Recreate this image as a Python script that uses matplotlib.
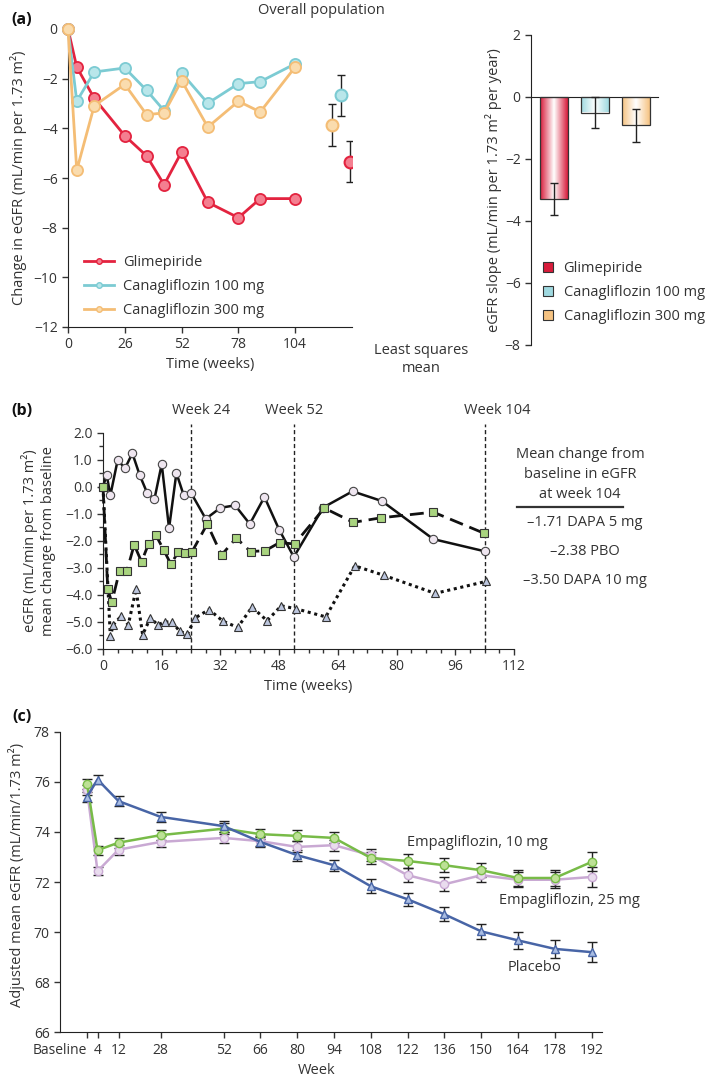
import numpy as np
import matplotlib
matplotlib.use("Agg")
import matplotlib.pyplot as plt
from matplotlib.lines import Line2D
from matplotlib.patches import Patch
from matplotlib.colors import LinearSegmentedColormap
from matplotlib.ticker import MultipleLocator, FuncFormatter

plt.rcParams['font.family'] = ['Open Sans', 'DejaVu Sans']
plt.rcParams['font.size'] = 10
for k in ['text.color', 'axes.labelcolor', 'xtick.color', 'ytick.color']:
    plt.rcParams[k] = '#333333'
plt.rcParams['axes.edgecolor'] = '#222222'

# ---- panel (a): change in eGFR over time
a_weeks = [0, 4, 12, 26, 36, 44, 52, 64, 78, 88, 104]
glim = [0, -1.53, -2.79, -4.30, -5.11, -6.27, -4.95, -6.98, -7.60, -6.83, -6.83]
cana100 = [0, -2.91, -1.73, -1.57, -2.47, -3.29, -1.77, -2.99, -2.20, -2.12, -1.40]
cana300 = [0, -5.69, -3.09, -2.23, -3.45, -3.38, -2.08, -3.95, -2.91, -3.34, -1.53]
a_names = ['Glimepiride', 'Canagliflozin 100 mg', 'Canagliflozin 300 mg']

# least squares means (glim, cana100, cana300)
lsm_x = [129, 125, 121]
lsm = [-5.34, -2.67, -3.87]
lsm_err = [0.83, 0.83, 0.84]

# eGFR slope bars
slope = [-3.30, -0.50, -0.91]
slope_err = [0.52, 0.50, 0.53]

# ---- panel (b): dapagliflozin
pbo_x = [0, 1, 2, 4, 6, 8, 10, 12, 14, 16, 18, 20, 22, 24, 28, 32, 36, 40, 44, 48, 52, 60, 68, 76, 90, 104]
pbo = [0, 0.46, -0.31, 1.00, 0.69, 1.25, 0.44, -0.21, -0.46, 0.85, -1.53, 0.52, -0.31, -0.22,
       -1.18, -0.77, -0.68, -1.37, -0.37, -1.58, -2.59, -0.76, -0.16, -0.52, -1.93, -2.38]
dapa5_x = [0, 1.3, 2.4, 4.5, 6.5, 8.5, 10.5, 12.4, 14.4, 16.5, 18.5, 20.5, 22.4, 24.3, 28.4, 32.3,
           36.3, 40.2, 44.2, 48.1, 52.2, 60.3, 68.2, 75.8, 90, 103.8]
dapa5 = [0, -3.79, -4.27, -3.11, -3.11, -2.14, -2.77, -2.11, -1.78, -2.32, -2.86, -2.41, -2.45, -2.39,
         -1.37, -2.52, -1.89, -2.39, -2.36, -2.06, -2.11, -0.78, -1.31, -1.14, -0.93, -1.71]
dapa10_x = [0, 2.0, 2.8, 4.9, 6.9, 9.0, 10.8, 12.9, 14.9, 16.9, 18.9, 20.9, 23.0, 25.1, 28.9, 32.7,
            36.7, 40.6, 44.7, 48.6, 52.6, 60.7, 68.6, 76.5, 90.5, 104.3]
dapa10 = [0, -5.53, -5.10, -4.79, -5.10, -3.79, -5.47, -4.85, -5.10, -5.00, -5.00, -5.35, -5.45, -4.85,
          -4.54, -4.97, -5.20, -4.45, -4.95, -4.40, -4.51, -4.81, -2.92, -3.27, -3.94, -3.50]
week_marks = [24, 52, 104]
summary_vals = [-1.71, -2.38, -3.50]
summary_names = ['DAPA 5 mg', 'PBO', 'DAPA 10 mg']

# ---- panel (c): empagliflozin
c_weeks = [0, 4, 12, 28, 52, 66, 80, 94, 108, 122, 136, 150, 164, 178, 192]
c_labels = ['Baseline'] + [str(w) for w in c_weeks[1:]]
placebo = [75.40, 76.09, 75.23, 74.60, 74.23, 73.60, 73.07, 72.67, 71.83, 71.31, 70.71, 70.03, 69.67, 69.33, 69.20]
placebo_err = [0.20, 0.17, 0.20, 0.20, 0.22, 0.20, 0.22, 0.22, 0.27, 0.27, 0.28, 0.30, 0.35, 0.37, 0.40]
empa10 = [75.93, 73.27, 73.57, 73.87, 74.13, 73.91, 73.84, 73.76, 72.96, 72.84, 72.67, 72.47, 72.16, 72.16, 72.80]
empa10_err = [0.20, 0.18, 0.20, 0.20, 0.22, 0.20, 0.22, 0.22, 0.25, 0.27, 0.28, 0.28, 0.30, 0.32, 0.38]
empa25 = [75.69, 72.43, 73.29, 73.60, 73.76, 73.63, 73.40, 73.47, 73.07, 72.27, 71.91, 72.27, 72.09, 72.09, 72.20]
empa25_err = [0.20, 0.17, 0.20, 0.22, 0.22, 0.20, 0.22, 0.22, 0.25, 0.28, 0.27, 0.28, 0.30, 0.32, 0.40]

W, H = 709, 1081
fig = plt.figure(figsize=(W / 100, H / 100), dpi=100)


def box(x0, y0, x1, y1):
    return [x0 / W, 1 - y1 / H, (x1 - x0) / W, (y1 - y0) / H]


def ftext(x, y, s, **kw):
    kw.setdefault('ha', 'center')
    kw.setdefault('va', 'center')
    fig.text(x / W, 1 - y / H, s, **kw)


def clean(ax):
    ax.spines['top'].set_visible(False)
    ax.spines['right'].set_visible(False)
    ax.tick_params(direction='out', length=4, width=1, labelsize=10)


a_cols = ['#e3233f', '#7ccbd3', '#f4bd75']
a_face = ['#f47f90', '#b9e6ea', '#fadcae']

# (a) left
ax1 = fig.add_axes(box(68, 29, 352, 327))
for vals, c, f, n in zip([glim, cana100, cana300], a_cols, a_face, a_names):
    ax1.plot(a_weeks, vals, '-o', color=c, lw=2, ms=8, mfc=f, mec=c, mew=1.3,
             clip_on=False, zorder=3)
ax1.errorbar(lsm_x, lsm, yerr=lsm_err, fmt='none', ecolor='#222222', elinewidth=1,
             capsize=3, zorder=2)
for x, v, c, f in zip(lsm_x, lsm, a_cols, a_face):
    ax1.plot(x, v, 'o', ms=8.5, mfc=f, mec=c, mew=1.5, zorder=4)
ax1.set_xlim(0, 130)
ax1.set_ylim(-12, 0)
ax1.set_xticks([0, 26, 52, 78, 104])
ax1.set_yticks(range(-12, 1, 2))
ax1.yaxis.set_major_formatter(FuncFormatter(lambda v, p: f'{v:.0f}'.replace('-', '\u2212')))
clean(ax1)
ax1.set_xlabel('Time (weeks)', fontsize=10.5, labelpad=3)
handles = [Line2D([], [], color=c, lw=2, marker='o', ms=4, mfc=f, mec=c) for c, f in zip(a_cols, a_face)]
ax1.legend(handles, a_names, loc='lower left', bbox_to_anchor=(0.035, 0.01), frameon=False,
           fontsize=10.5, handlelength=2.1, handletextpad=0.6, labelspacing=0.62, borderaxespad=0)
ftext(19, 178, 'Change in eGFR (mL/min per 1.73 m²)', rotation=90, fontsize=10.5)
ftext(22, 20, '(a)', fontsize=11.5, fontweight='bold', color='#111111')
ftext(321, 10, 'Overall population', fontsize=10.5)
ftext(421, 350, 'Least squares', fontsize=10.5)
ftext(421, 369, 'mean', fontsize=10.5)

# (a) right: slopes
ax2 = fig.add_axes(box(531, 35, 658, 345))
bar_cols = ['#d81c3b', '#9fd9e0', '#f6c382']
bars = ax2.bar([1, 2, 3], slope, width=0.68, color='none', edgecolor='#333333', lw=0.9, zorder=3)
grad = np.linspace(0, 1, 100).reshape(1, -1)
for b, c in zip(bars, bar_cols):
    cm = LinearSegmentedColormap.from_list('g', [c, '#ffffff', c])
    x0, w = b.get_x(), b.get_width()
    im = ax2.imshow(grad, extent=[x0, x0 + w, b.get_y() + b.get_height(), b.get_y()],
                    aspect='auto', cmap=cm, zorder=2)
    im.set_clip_path(b)
ax2.errorbar([1, 2, 3], slope, yerr=slope_err, fmt='none', ecolor='#222222', elinewidth=1,
             capsize=3, zorder=4)
ax2.set_xlim(0.44, 3.54)
ax2.set_ylim(-8, 2)
ax2.set_yticks(range(-8, 3, 2))
ax2.yaxis.set_major_formatter(FuncFormatter(lambda v, p: f'{v:.0f}'.replace('-', '\u2212')))
clean(ax2)
ax2.spines['bottom'].set_position(('data', 0))
ax2.set_xticks([])
ax2.tick_params(axis='x', length=0)
ph = [Patch(facecolor=c, edgecolor='#333333', lw=0.8) for c in bar_cols]
ax2.legend(ph, a_names, loc='upper left', bbox_to_anchor=(0.05, 0.29), frameon=False,
           fontsize=10.5, handlelength=0.7, handleheight=0.7, handletextpad=0.7,
           labelspacing=0.62, borderaxespad=0)
ftext(493, 190, 'eGFR slope (mL/min per 1.73 m² per year)', rotation=90, fontsize=10.5)

# (b)
ax3 = fig.add_axes(box(103, 433, 514, 649))
ax3.plot(dapa10_x, dapa10, linestyle=(0, (1, 1.2)), color='#111111', lw=2.2, marker='^', ms=6,
         mfc='#bcc6de', mec='#333333', mew=0.8, clip_on=False, zorder=3)
ax3.plot(pbo_x, pbo, '-', color='#111111', lw=1.8, marker='o', ms=6, mfc='#efe6f0',
         mec='#444444', mew=0.8, clip_on=False, zorder=4)
ax3.plot(dapa5_x, dapa5, linestyle=(0, (5, 2.5)), color='#111111', lw=2, marker='s', ms=5.5,
         mfc='#a9d47f', mec='#333333', mew=0.8, clip_on=False, zorder=5)
for wk in week_marks:
    ax3.plot([wk, wk], [-6, 2.35], color='#222222', lw=1, ls=(0, (3, 2)), clip_on=False, zorder=1)
ax3.set_xlim(0, 112)
ax3.set_ylim(-6, 2)
ax3.xaxis.set_major_locator(MultipleLocator(16))
ax3.xaxis.set_minor_locator(MultipleLocator(4))
ax3.yaxis.set_major_locator(MultipleLocator(1))
ax3.yaxis.set_minor_locator(MultipleLocator(0.5))
ax3.yaxis.set_major_formatter(FuncFormatter(lambda v, p: f'{v:.1f}'.replace('-', '\u2212')))
clean(ax3)
ax3.tick_params(which='minor', direction='out', length=3, width=1)
ax3.set_xlabel('Time (weeks)', fontsize=10.5, labelpad=3)
ftext(30, 541, 'eGFR (mL/min per 1.73 m²)', rotation=90, fontsize=10.5)
ftext(48, 541, 'mean change from baseline', rotation=90, fontsize=10.5)
ftext(22, 411, '(b)', fontsize=11.5, fontweight='bold', color='#111111')
for wk, xc in zip(week_marks, [201, 294, 497]):
    ftext(xc, 411, f'Week {wk}', fontsize=10.5)
for i, line in enumerate(['Mean change from', 'baseline in eGFR', 'at week 104']):
    ftext(580, 454 + 20.5 * i, line, fontsize=10.5)
fig.add_artist(Line2D([517 / W, 623 / W], [1 - 507 / H] * 2, color='#333333', lw=1.6))
for i, (v, n) in enumerate(zip(summary_vals, summary_names)):
    ftext(585, 523 + 28.5 * i, f'{v:.2f} {n}'.replace('-', '\u2013'), fontsize=10.5)

# (c)
ax4 = fig.add_axes(box(60.2, 731.7, 601.8, 1032.3))
ser = [(empa25, empa25_err, '#c9a9d3', '#e9dcee', 'o'),
       (empa10, empa10_err, '#78bb48', '#bde196', 'o'),
       (placebo, placebo_err, '#4865a6', '#a9bde3', '^')]
for vals, err, c, f, m in ser:
    ax4.errorbar(c_weeks, vals, yerr=err, color=c, lw=1.8, marker=m, ms=6, mfc=f, mec=c, mew=1,
                 ecolor='#222222', elinewidth=1, capsize=3.5, capthick=1)
ax4.set_xlim(-10.2, 195.9)
ax4.set_ylim(66, 78)
ax4.set_yticks(range(66, 79, 2))
ax4.set_xticks(c_weeks)
ax4.set_xticklabels(c_labels)
clean(ax4)
ax4.get_xticklabels()[0].set_ha('right')
ax4.text(121.8, 73.57, 'Empagliflozin, 10 mg', ha='left', va='center', fontsize=10.5)
ax4.text(156.8, 71.28, 'Empagliflozin, 25 mg', ha='left', va='center', fontsize=10.5)
ax4.text(160.2, 68.57, 'Placebo', ha='left', va='center', fontsize=10.5)
ftext(317, 1071, 'Week', fontsize=10.5)
ftext(17, 875, 'Adjusted mean eGFR (mL/min/1.73 m²)', rotation=90, fontsize=10.5)
ftext(22, 717, '(c)', fontsize=11.5, fontweight='bold', color='#111111')

fig.savefig('out.png', dpi=100)
